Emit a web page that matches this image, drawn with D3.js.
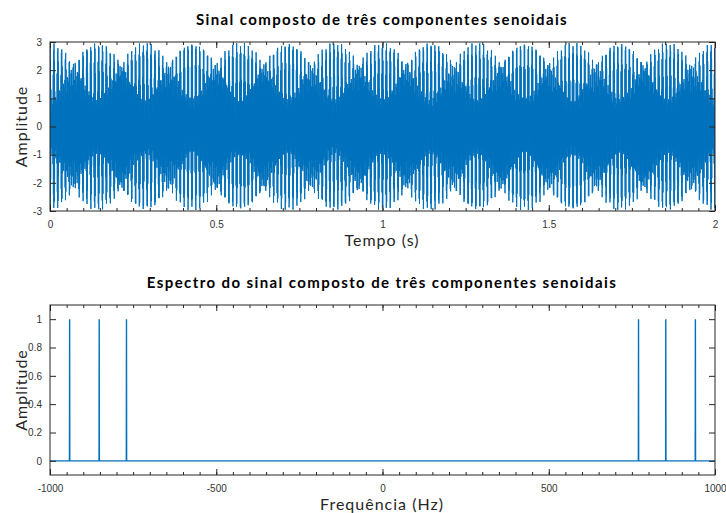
<!DOCTYPE html>
<html>
<head>
<meta charset="utf-8">
<script src="https://cdn.jsdelivr.net/npm/d3@7"></script>
<style>
  body { margin: 0; background: #fff; }
  svg { display: block; }
  .tick text { font-family: "Liberation Sans", Arial, sans-serif; font-size: 10px; fill: #333; }
  .tick line { stroke: #262626; }
  .domain { display: none; }
  .title { font-family: Lato, sans-serif; font-weight: bold; font-size: 15px; fill: #000; letter-spacing: 1.4px; }
  .label { font-family: Lato, sans-serif; font-size: 16px; fill: #262626; letter-spacing: 1px; }
</style>
</head>
<body>
<script>

// components (Hz) and their amplitudes
var freqs = [770, 852, 941],
    amps = [1, 1, 1];

var fsTime = 8000,   // sample rate used to draw the waveform
    duration = 2,    // seconds
    fMax = 1000,     // spectrum axis limit (Hz)
    binW = 0.5;      // spectrum bin width (Hz)

// tick labels
var timeTicks = [0, 0.5, 1, 1.5, 2],
    ampTicks = [-3, -2, -1, 0, 1, 2, 3],
    freqTicks = [-1000, -500, 0, 500, 1000],
    specTicks = [0, 0.2, 0.4, 0.6, 0.8, 1];

var W = 726, H = 513;
var blue = '#0072BD';

var svg = d3.select('body').append('svg')
    .attr('width', W)
    .attr('height', H);

// sampled signal: sum of the three sinusoids
var signal = d3.range(0, duration * fsTime + 1).map(function(n){
    var t = n / fsTime;
    var v = d3.sum(freqs, function(f, i){ return amps[i] * Math.sin(2 * Math.PI * f * t); });
    return [t, v];
});

// spectrum line: zero baseline with a spike per component (both sides)
var spikes = [];
freqs.forEach(function(f, i){
    spikes.push([-f, amps[i]]);
    spikes.push([f, amps[i]]);
});
spikes.sort(function(a, b){ return a[0] - b[0]; });
var spectrum = [[-fMax, 0]];
spikes.forEach(function(s){
    spectrum.push([s[0] - binW, 0], s, [s[0] + binW, 0]);
});
spectrum.push([fMax, 0]);

var fmt = function(d){ return String(d); };

function panel(opts){
    var g = svg.append('g');
    var x = d3.scaleLinear().domain(opts.xDomain).range([50, 715]);
    var y = d3.scaleLinear().domain(opts.yDomain).range([opts.bottom, opts.top]);

    g.append('clipPath').attr('id', opts.id)
        .append('rect')
        .attr('x', 50).attr('y', opts.top)
        .attr('width', 665).attr('height', opts.bottom - opts.top);

    g.append('path')
        .datum(opts.data)
        .attr('clip-path', 'url(#' + opts.id + ')')
        .attr('fill', 'none')
        .attr('stroke', blue)
        .attr('stroke-width', opts.lw)
        .attr('d', d3.line().x(function(d){ return x(d[0]); }).y(function(d){ return y(d[1]); }));

    // minor x ticks
    g.append('g').attr('transform', 'translate(0,' + opts.bottom + ')')
        .call(d3.axisBottom(x).tickValues(opts.minor).tickSize(-3).tickFormat(''));
    g.append('g').attr('transform', 'translate(0,' + opts.top + ')')
        .call(d3.axisTop(x).tickValues(opts.minor).tickSize(-3).tickFormat(''));

    // major ticks
    g.append('g').attr('transform', 'translate(0,' + opts.bottom + ')')
        .call(d3.axisBottom(x).tickValues(opts.xTicks).tickSize(-6).tickPadding(10).tickFormat(fmt));
    g.append('g').attr('transform', 'translate(0,' + opts.top + ')')
        .call(d3.axisTop(x).tickValues(opts.xTicks).tickSize(-6).tickFormat(''));
    g.append('g').attr('transform', 'translate(50,0)')
        .call(d3.axisLeft(y).tickValues(opts.yTicks).tickSize(-6).tickPadding(8).tickFormat(fmt));
    g.append('g').attr('transform', 'translate(715,0)')
        .call(d3.axisRight(y).tickValues(opts.yTicks).tickSize(-6).tickFormat(''));

    g.append('rect')
        .attr('x', 50).attr('y', opts.top)
        .attr('width', 665).attr('height', opts.bottom - opts.top)
        .attr('fill', 'none').attr('stroke', '#262626').attr('stroke-width', 1);

    g.append('text').attr('class', 'title')
        .attr('x', 382).attr('y', opts.top - 17)
        .attr('text-anchor', 'middle').text(opts.title);
    g.append('text').attr('class', 'label')
        .attr('x', 382).attr('y', opts.bottom + 35)
        .attr('text-anchor', 'middle').text(opts.xLabel);
    g.append('text').attr('class', 'label')
        .attr('transform', 'translate(27,' + ((opts.top + opts.bottom) / 2) + ') rotate(-90)')
        .attr('text-anchor', 'middle').text('Amplitude');
}

panel({
    id: 'clipTop', data: signal, lw: 1,
    xDomain: [0, duration], yDomain: [-3, 3], top: 42, bottom: 211,
    xTicks: timeTicks, yTicks: ampTicks,
    minor: d3.range(0, 41).map(function(i){ return i * 0.05; }),
    title: 'Sinal composto de três componentes senoidais',
    xLabel: 'Tempo (s)'
});

panel({
    id: 'clipBot', data: spectrum, lw: 1.4,
    xDomain: [-fMax, fMax], yDomain: [-0.1, 1.1], top: 305, bottom: 475,
    xTicks: freqTicks, yTicks: specTicks,
    minor: d3.range(0, 41).map(function(i){ return -1000 + i * 50; }),
    title: 'Espectro do sinal composto de três componentes senoidais',
    xLabel: 'Frequência (Hz)'
});

</script>
</body>
</html>
